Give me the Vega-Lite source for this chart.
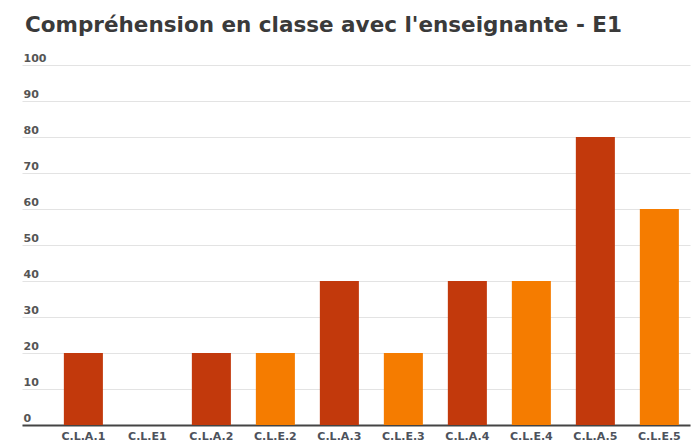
{
  "$schema": "https://vega.github.io/schema/vega-lite/v6.json",
  "autosize": {"type": "none"},
  "padding": {"left": 22, "top": 65, "right": 8, "bottom": 18},
  "width": 668,
  "height": 360,
  "background": "white",
  "title": {
    "text": "Compréhension en classe avec l'enseignante - E1",
    "anchor": "start",
    "frame": "group",
    "dx": 3,
    "offset": -1,
    "baseline": "alphabetic",
    "font": "DejaVu Sans",
    "fontSize": 21.5,
    "fontWeight": "bold",
    "color": "#3a3a3a"
  },
  "data": {
    "values": [
      {"code": "C.L.A.1", "type": "A", "value": 20},
      {"code": "C.L.E1", "type": "E", "value": 0},
      {"code": "C.L.A.2", "type": "A", "value": 20},
      {"code": "C.L.E.2", "type": "E", "value": 20},
      {"code": "C.L.A.3", "type": "A", "value": 40},
      {"code": "C.L.E.3", "type": "E", "value": 20},
      {"code": "C.L.A.4", "type": "A", "value": 40},
      {"code": "C.L.E.4", "type": "E", "value": 40},
      {"code": "C.L.A.5", "type": "A", "value": 80},
      {"code": "C.L.E.5", "type": "E", "value": 60}
    ]
  },
  "mark": {"type": "bar"},
  "encoding": {
    "x": {
      "field": "code",
      "type": "nominal",
      "sort": null,
      "scale": {"paddingInner": 0.39, "paddingOuter": 0.414, "align": 0.79},
      "axis": {
        "title": null,
        "labelAngle": 0,
        "ticks": false,
        "tickSize": 0,
        "domainColor": "#444444",
        "domainWidth": 2,
        "labelFont": "DejaVu Sans",
        "labelFontSize": 11,
        "labelFontWeight": "bold",
        "labelColor": "#4d525c",
        "labelPadding": 5
      }
    },
    "y": {
      "field": "value",
      "type": "quantitative",
      "scale": {"domain": [0, 100]},
      "axis": {
        "title": null,
        "values": [0, 10, 20, 30, 40, 50, 60, 70, 80, 90, 100],
        "domain": false,
        "ticks": false,
        "tickSize": 0,
        "labelAlign": "left",
        "labelBaseline": "alphabetic",
        "labelPadding": -1,
        "labelOffset": -4,
        "labelFont": "DejaVu Sans",
        "labelFontSize": 11,
        "labelFontWeight": "bold",
        "labelColor": "#555555",
        "gridColor": "#e3e3e3",
        "gridWidth": 1
      }
    },
    "color": {
      "field": "type",
      "type": "nominal",
      "scale": {"domain": ["A", "E"], "range": ["#c2390c", "#f57c00"]},
      "legend": null
    }
  },
  "config": {"view": {"stroke": null}}
}
